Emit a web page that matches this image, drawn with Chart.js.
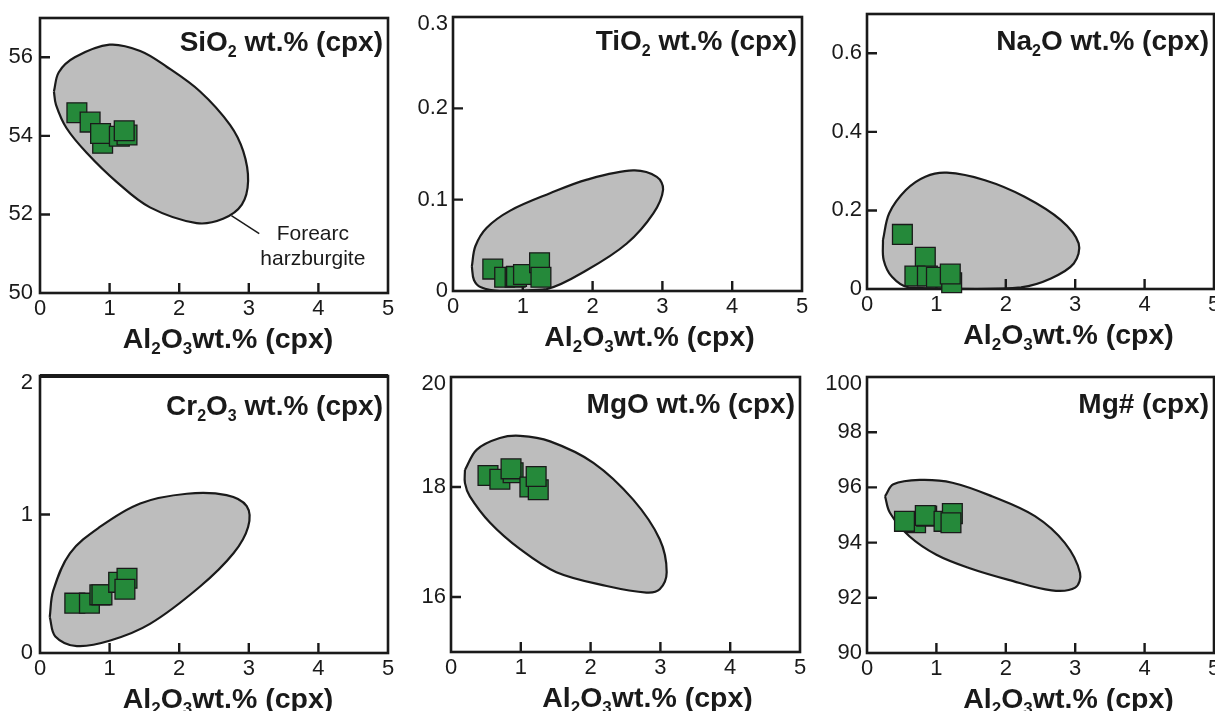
<!DOCTYPE html>
<html>
<head>
<meta charset="utf-8">
<script src="https://cdn.jsdelivr.net/npm/chart.js@4.4.0/dist/chart.umd.min.js"></script>
<style>
    html, body { margin: 0; padding: 0; background: #fff; overflow: hidden; }
    body { width: 1215px; height: 711px; position: relative; }
    canvas { position: absolute; }
</style>
</head>
<body>
<canvas id="sio2"></canvas>
<canvas id="tio2"></canvas>
<canvas id="na2o"></canvas>
<canvas id="cr2o3"></canvas>
<canvas id="mgo"></canvas>
<canvas id="mgnum"></canvas>
<script>
// x axis, shared by every panel
const alTicks = [0, 1, 2, 3, 4, 5];
const alMarks = [1, 2, 3, 4];

// SiO2
const sio2Al = [0.53, 0.72, 0.90, 0.87, 1.14, 1.25, 1.21];
const sio2 = [54.59, 54.35, 53.81, 54.06, 53.99, 54.02, 54.13];
const sio2FieldAl = [0.20, 0.27, 0.50, 1.00, 1.44, 1.82, 2.30, 2.73, 2.92, 2.99, 2.90, 2.63, 2.25, 1.58, 1.10, 0.67, 0.38, 0.23, 0.20];
const sio2Field = [55.13, 55.62, 56.00, 56.32, 56.16, 55.76, 55.13, 54.28, 53.61, 52.85, 52.25, 51.89, 51.78, 52.18, 52.83, 53.57, 54.20, 54.79, 55.13];
const sio2Ticks = [50, 52, 54, 56];
const sio2Marks = [52, 54, 56];
const leaderAl = [2.75, 3.15];
const leaderSio2 = [51.97, 51.51];

// TiO2
const tio2Al = [0.57, 0.74, 0.89, 0.91, 1.01, 1.24, 1.26];
const tio2 = [0.024, 0.015, 0.015, 0.016, 0.018, 0.031, 0.015];
const tio2FieldAl = [0.27, 0.32, 0.48, 0.82, 1.39, 1.92, 2.58, 2.92, 3.01, 2.87, 2.49, 1.92, 1.34, 0.67, 0.40, 0.30, 0.27];
const tio2Field = [0.027, 0.049, 0.069, 0.088, 0.107, 0.122, 0.132, 0.125, 0.111, 0.085, 0.052, 0.023, 0.002, 0.0, 0.004, 0.012, 0.027];
const tio2Ticks = [0, 0.1, 0.2, 0.3];
const tio2Marks = [0.1, 0.2];

// Na2O
const na2oAl = [0.51, 0.84, 0.69, 0.87, 1.00, 1.22, 1.20];
const na2o = [0.139, 0.081, 0.033, 0.033, 0.030, 0.016, 0.038];
const na2oFieldAl = [0.23, 0.32, 0.56, 0.84, 1.15, 1.70, 2.27, 2.79, 3.05, 2.98, 2.65, 2.22, 1.58, 0.60, 0.36, 0.24, 0.23];
const na2oField = [0.125, 0.193, 0.252, 0.286, 0.296, 0.277, 0.235, 0.176, 0.116, 0.065, 0.027, 0.004, 0.0, 0.004, 0.031, 0.074, 0.125];
const na2oTicks = [0, 0.2, 0.4, 0.6];
const na2oMarks = [0.2, 0.4, 0.6];

// Cr2O3
const cr2o3Al = [0.50, 0.71, 0.86, 0.89, 1.13, 1.25, 1.22];
const cr2o3 = [0.36, 0.36, 0.42, 0.42, 0.51, 0.54, 0.46];
const cr2o3FieldAl = [0.14, 0.19, 0.43, 0.86, 1.44, 2.11, 2.68, 2.97, 2.99, 2.78, 2.30, 1.58, 1.01, 0.53, 0.22, 0.14];
const cr2o3Field = [0.26, 0.45, 0.72, 0.91, 1.08, 1.15, 1.14, 1.06, 0.91, 0.72, 0.48, 0.21, 0.09, 0.05, 0.12, 0.26];
const cr2o3Ticks = [0, 1, 2];
const cr2o3Marks = [1];

// MgO
const mgoAl = [0.53, 0.70, 0.89, 0.86, 1.13, 1.25, 1.22];
const mgo = [18.21, 18.14, 18.26, 18.33, 18.00, 17.95, 18.19];
const mgoFieldAl = [0.20, 0.37, 0.70, 0.99, 1.42, 2.04, 2.61, 2.99, 3.09, 2.99, 2.80, 2.23, 1.51, 0.99, 0.56, 0.27, 0.20, 0.20];
const mgoField = [18.31, 18.68, 18.89, 18.93, 18.83, 18.44, 17.77, 17.05, 16.45, 16.14, 16.08, 16.20, 16.45, 16.87, 17.35, 17.83, 18.07, 18.31];
const mgoTicks = [16, 18, 20];
const mgoMarks = [16, 18];

// Mg#
const mgnumAl = [0.70, 0.54, 0.86, 0.84, 1.11, 1.23, 1.21];
const mgnum = [94.72, 94.77, 94.96, 94.98, 94.77, 95.05, 94.72];
const mgnumFieldAl = [0.26, 0.38, 0.76, 1.23, 1.80, 2.42, 2.85, 3.07, 3.00, 2.66, 2.04, 1.47, 1.00, 0.61, 0.33, 0.26];
const mgnumField = [95.68, 96.11, 96.27, 96.17, 95.68, 94.96, 93.99, 92.90, 92.37, 92.27, 92.65, 93.08, 93.56, 94.23, 95.08, 95.68];
const mgnumTicks = [90, 92, 94, 96, 98, 100];
const mgnumMarks = [92, 94, 96, 98];

const xTitle = [['Al'], ['2', 1], ['O'], ['3', 1], ['wt.% (cpx)']];

const FONT = '"Liberation Sans", Arial, Helvetica, sans-serif';
const INK = '#1a1a1a';
const GREEN = '#25893a';
const GREY = '#bdbdbd';

const Y_AXIS_W = 50;
const X_AXIS_H = 30;

const pts = (xs, ys) => xs.map((x, i) => ({ x: x, y: ys[i] }));

// rich text with subscripts
function drawRich(ctx, parts, x, y, size, align) {
    const subSize = Math.round(size * 0.58);
    let total = 0;
    const widths = parts.map((p) => {
        ctx.font = 'bold ' + (p[1] ? subSize : size) + 'px ' + FONT;
        const w = ctx.measureText(p[0]).width;
        total += w;
        return w;
    });
    let cx = align === 'right' ? x - total : align === 'center' ? x - total / 2 : x;
    ctx.textAlign = 'left';
    ctx.textBaseline = 'alphabetic';
    parts.forEach((p, i) => {
        ctx.font = 'bold ' + (p[1] ? subSize : size) + 'px ' + FONT;
        ctx.fillText(p[0], cx, p[1] ? y + size * 0.22 : y);
        cx += widths[i];
    });
}

function makeDeco(panel) {
    return {
        id: 'deco',
        afterDatasetDraw(chart, args) {
            if (chart.data.datasets[args.index].label !== 'field') return;
            const { ctx, chartArea: a } = chart;
            const xs = chart.scales.x;
            const ys = chart.scales.y;
            ctx.save();
            ctx.strokeStyle = INK;
            ctx.lineWidth = 2.6;
            ctx.strokeRect(a.left, a.top, a.right - a.left, a.bottom - a.top);
            if (panel.topWidth) {
                ctx.lineWidth = panel.topWidth;
                ctx.beginPath();
                ctx.moveTo(a.left, a.top);
                ctx.lineTo(a.right, a.top);
                ctx.stroke();
            }
            ctx.lineWidth = 2.4;
            ctx.beginPath();
            alMarks.forEach((v) => {
                const px = xs.getPixelForValue(v);
                ctx.moveTo(px, a.bottom);
                ctx.lineTo(px, a.bottom - 10);
            });
            panel.yMarks.forEach((v) => {
                const py = ys.getPixelForValue(v);
                ctx.moveTo(a.left, py);
                ctx.lineTo(a.left + 10, py);
            });
            ctx.stroke();
            ctx.restore();
        },
        afterDraw(chart) {
            const { ctx, chartArea: a } = chart;
            const xs = chart.scales.x;
            const ys = chart.scales.y;
            ctx.save();
            ctx.fillStyle = INK;
            drawRich(ctx, panel.title, a.right - 5, a.top + panel.titleDrop, 28, 'right');
            drawRich(ctx, xTitle, (a.left + a.right) / 2 + panel.xTitleShift, a.bottom + 55, 28.5, 'center');
            if (panel.note) {
                ctx.font = '21px ' + FONT;
                ctx.textAlign = 'center';
                ctx.textBaseline = 'alphabetic';
                panel.note.lines.forEach((t, i) => {
                    ctx.fillText(t, xs.getPixelForValue(panel.note.x), ys.getPixelForValue(panel.note.y[i]));
                });
            }
            ctx.restore();
        }
    };
}

const panels = [
    { id: 'sio2', rect: [40, 18, 388, 293], yMin: 50, yMax: 57, yTicks: sio2Ticks, yMarks: sio2Marks,
      al: sio2Al, val: sio2, fieldAl: sio2FieldAl, field: sio2Field, labelPad: 7,
      title: [['SiO'], ['2', 1], [' wt.% (cpx)']], titleDrop: 33, xTitleShift: 14,
      leader: pts(leaderAl, leaderSio2),
      note: { lines: ['Forearc', 'harzburgite'], x: 3.92, y: [51.34, 50.72] } },
    { id: 'tio2', rect: [453, 17, 802, 291], yMin: 0, yMax: 0.3, yTicks: tio2Ticks, yMarks: tio2Marks,
      al: tio2Al, val: tio2, fieldAl: tio2FieldAl, field: tio2Field, labelPad: 5,
      title: [['TiO'], ['2', 1], [' wt.% (cpx)']], titleDrop: 33, xTitleShift: 22 },
    { id: 'na2o', rect: [867, 14, 1214, 289], yMin: 0, yMax: 0.7, yTicks: na2oTicks, yMarks: na2oMarks,
      al: na2oAl, val: na2o, fieldAl: na2oFieldAl, field: na2oField, labelPad: 5,
      title: [['Na'], ['2', 1], ['O wt.% (cpx)']], titleDrop: 36, xTitleShift: 28 },
    { id: 'cr2o3', rect: [40, 376, 388, 653], yMin: 0, yMax: 2, yTicks: cr2o3Ticks, yMarks: cr2o3Marks,
      al: cr2o3Al, val: cr2o3, fieldAl: cr2o3FieldAl, field: cr2o3Field, labelPad: 7, topWidth: 4,
      title: [['Cr'], ['2', 1], ['O'], ['3', 1], [' wt.% (cpx)']], titleDrop: 39, xTitleShift: 14 },
    { id: 'mgo', rect: [451, 377, 800, 652], yMin: 15, yMax: 20, yTicks: mgoTicks, yMarks: mgoMarks,
      al: mgoAl, val: mgo, fieldAl: mgoFieldAl, field: mgoField, labelPad: 5,
      title: [['MgO wt.% (cpx)']], titleDrop: 36, xTitleShift: 22 },
    { id: 'mgnum', rect: [867, 377, 1214, 653], yMin: 90, yMax: 100, yTicks: mgnumTicks, yMarks: mgnumMarks,
      al: mgnumAl, val: mgnum, fieldAl: mgnumFieldAl, field: mgnumField, labelPad: 5,
      title: [['Mg# (cpx)']], titleDrop: 36, xTitleShift: 28 }
];

panels.forEach((p) => {
    const [L, T, R, B] = p.rect;
    const padTop = 30, padRight = 30, below = 62;
    const canvas = document.getElementById(p.id);
    canvas.width = (R - L) + Y_AXIS_W + padRight;
    canvas.height = (B - T) + padTop + below;
    canvas.style.left = (L - Y_AXIS_W) + 'px';
    canvas.style.top = (T - padTop) + 'px';

    const datasets = [
        {
            label: 'samples',
            data: pts(p.al, p.val),
            pointStyle: 'rect',
            pointRadius: 14,
            backgroundColor: GREEN,
            borderColor: INK,
            borderWidth: 1.3,
            showLine: false,
            clip: false,
            order: 1
        },
        {
            label: 'field',
            type: 'line',
            data: pts(p.fieldAl, p.field),
            borderColor: INK,
            borderWidth: 2.2,
            backgroundColor: GREY,
            fill: 'shape',
            tension: 0.35,
            pointRadius: 0,
            clip: false,
            order: 3
        }
    ];
    if (p.leader) {
        datasets.push({
            label: 'leader',
            type: 'line',
            data: p.leader,
            borderColor: INK,
            borderWidth: 1.5,
            pointRadius: 0,
            fill: false,
            order: 2
        });
    }

    new Chart(canvas, {
        type: 'scatter',
        data: { datasets: datasets },
        options: {
            responsive: false,
            animation: false,
            events: [],
            layout: { padding: { top: padTop, right: padRight, left: 0, bottom: below - X_AXIS_H } },
            plugins: { legend: { display: false }, tooltip: { enabled: false } },
            scales: {
                x: {
                    type: 'linear',
                    min: 0,
                    max: 5,
                    afterBuildTicks: (s) => { s.ticks = alTicks.map((v) => ({ value: v })); },
                    afterFit: (s) => { s.height = X_AXIS_H; },
                    grid: { display: false, drawTicks: false },
                    border: { display: false },
                    ticks: {
                        autoSkip: false,
                        maxRotation: 0,
                        padding: 3,
                        color: INK,
                        font: { family: FONT, size: 22 },
                        callback: (v) => String(v)
                    }
                },
                y: {
                    type: 'linear',
                    min: p.yMin,
                    max: p.yMax,
                    afterBuildTicks: (s) => { s.ticks = p.yTicks.map((v) => ({ value: v })); },
                    afterFit: (s) => { s.width = Y_AXIS_W; },
                    grid: { display: false, drawTicks: false },
                    border: { display: false },
                    ticks: {
                        autoSkip: false,
                        padding: p.labelPad,
                        color: INK,
                        font: { family: FONT, size: 22, lineHeight: 0.6 },
                        // the label at the very top sits a little below its corner
                        callback: (v) => (v === p.yMax ? ['', String(v)] : String(v))
                    }
                }
            }
        },
        plugins: [makeDeco(p)]
    });
});
</script>
</body>
</html>
